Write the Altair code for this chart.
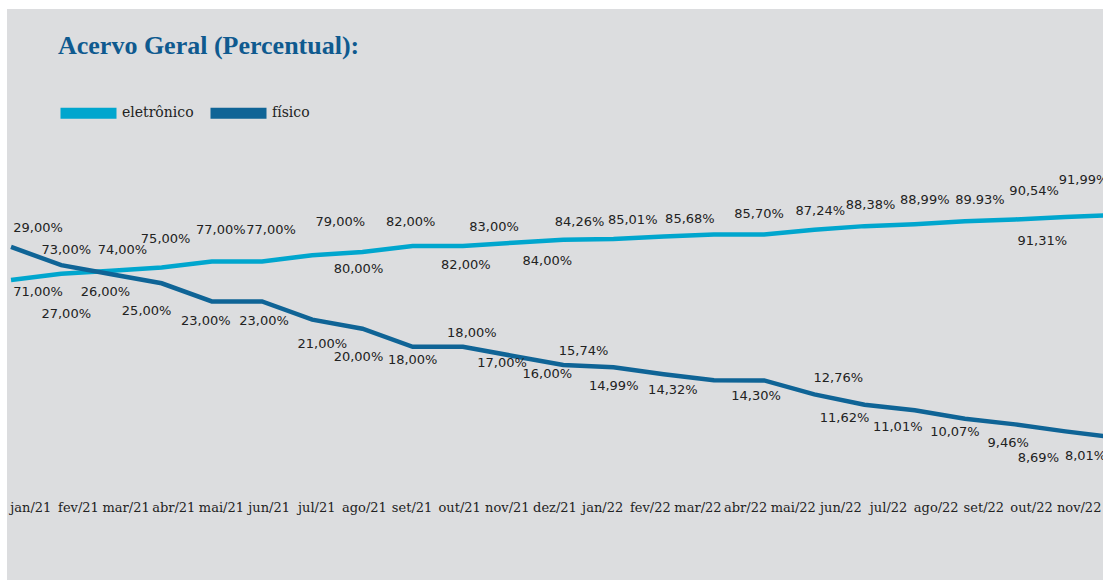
import altair as alt
import pandas as pd

# Monthly share of the collection: electronic vs. physical (%)
meses = ["jan/21", "fev/21", "mar/21", "abr/21", "mai/21", "jun/21", "jul/21",
         "ago/21", "set/21", "out/21", "nov/21", "dez/21", "jan/22", "fev/22",
         "mar/22", "abr/22", "mai/22", "jun/22", "jul/22", "ago/22", "set/22",
         "out/22", "nov/22"]
eletronico = [71.00, 73.00, 74.00, 75.00, 77.00, 77.00, 79.00, 80.00, 82.00,
              82.00, 83.00, 84.00, 84.26, 85.01, 85.68, 85.70, 87.24, 88.38,
              88.99, 89.93, 90.54, 91.31, 91.99]
fisico = [29.00, 27.00, 26.00, 25.00, 23.00, 23.00, 21.00, 20.00, 18.00,
          18.00, 17.00, 16.00, 15.74, 14.99, 14.32, 14.30, 12.76, 11.62,
          11.01, 10.07, 9.46, 8.69, 8.01]
# months whose label was typed with a decimal point instead of a comma
ponto_decimal_eletronico = {19}

# hand-placed label nudges, in pixels (dx, dy) from each point
nudge_e = [(27, 12), (5, -24), (11, -21), (4, -29), (9, -31), (9, -31),
           (28, -33), (-4, 17), (-2, -24), (3, 19), (-19, -16), (-16, 21),
           (-34, -17), (-31, -17), (-24, -15), (-5, -20), (6, -19), (6, -21),
           (10, -24), (15, -21), (19, -28), (-23, 24), (-32, -35)]
nudge_f = [(27, -19), (5, 49), (-6, 18), (-15, 28), (-6, 20), (2, 20),
           (10, 24), (-4, 28), (0, 13), (9, -14), (-11, 7), (-16, 9),
           (-30, -16), (-50, 12), (-41, 10), (-8, 16), (24, -16), (-20, 13),
           (-17, 17), (-10, 13), (-7, 19), (-27, 27), (-30, 18)]

W, H = 1096, 571
X_DOMAIN = [-0.08, 21.75]
E_DOMAIN = [-25.77, 158.42]
F_DOMAIN = [-7.68, 55.21]

C_E = "#00A6CE"
C_F = "#0F6496"
TXT = "#222222"
BG = "#DCDDDF"

px_x = W / (X_DOMAIN[1] - X_DOMAIN[0])
px_e = H / (E_DOMAIN[1] - E_DOMAIN[0])
px_f = H / (F_DOMAIN[1] - F_DOMAIN[0])


def fmt(v, ponto=False):
    s = f"{v:.2f}"
    return (s if ponto else s.replace(".", ",")) + "%"


def frame(values, nudges, ppy, serie, ponto=()):
    return pd.DataFrame({
        "i": list(range(len(values))),
        "v": values,
        "serie": serie,
        "rotulo": [fmt(v, k in ponto) for k, v in enumerate(values)],
        "lx": [k + dx / px_x for k, (dx, dy) in enumerate(nudges)],
        "ly": [v - dy / ppy for v, (dx, dy) in zip(values, nudges)],
    })


df_e = frame(eletronico, nudge_e, px_e, "eletrônico", ponto_decimal_eletronico)
df_f = frame(fisico, nudge_f, px_f, "físico")
df_m = pd.DataFrame({"mes": meses})

xscale = alt.Scale(domain=X_DOMAIN, nice=False, zero=False)
color = alt.Color(
    "serie:N",
    scale=alt.Scale(domain=["eletrônico", "físico"], range=[C_E, C_F]),
    legend=alt.Legend(
        title=None, orient="none", legendX=48, legendY=70.5,
        direction="horizontal", symbolType="stroke", symbolSize=3136,
        symbolStrokeWidth=11, labelFont="DejaVu Serif", labelFontSize=14,
        labelColor=TXT, labelOffset=0, columnPadding=-6, padding=0,
    ),
)


def series(df, domain):
    ysc = alt.Scale(domain=domain, nice=False, zero=False)
    line = alt.Chart(df).mark_line(strokeWidth=4.5, strokeCap="butt").encode(
        x=alt.X("i:Q", scale=xscale, axis=None),
        y=alt.Y("v:Q", scale=ysc, axis=None),
        color=color,
    )
    labels = alt.Chart(df).mark_text(
        font="DejaVu Sans", fontSize=13, color=TXT, baseline="middle"
    ).encode(
        x=alt.X("lx:Q", scale=xscale, axis=None),
        y=alt.Y("ly:Q", scale=ysc, axis=None),
        text="rotulo:N",
    )
    return line, labels


line_e, lab_e = series(df_e, E_DOMAIN)
line_f, lab_f = series(df_f, F_DOMAIN)

months = alt.Chart(df_m).mark_text(
    font="DejaVu Serif", fontSize=13, color=TXT, baseline="middle"
).encode(
    x=alt.X("mes:O", sort=None, scale=alt.Scale(type="point", padding=0.5), axis=None),
    y=alt.value(499),
    text="mes:N",
)

chart = alt.layer(line_e, line_f, lab_e, lab_f, months).resolve_scale(
    x="independent", y="independent", color="shared"
).properties(
    width=W, height=H,
    autosize=alt.AutoSizeParams(type="none"),
    padding={"left": 7, "top": 9, "right": 0, "bottom": 1},
    background="white",
    title=alt.TitleParams(
        "Acervo Geral (Percentual):", font="Liberation Serif", fontSize=26,
        fontWeight="bold", color="#0F5A8F", anchor="start", frame="group",
        dx=51, dy=71, offset=0, baseline="alphabetic",
    ),
).configure_view(fill=BG, stroke=None)

chart.save("out.html", embed_options={"renderer": "svg", "actions": False})
